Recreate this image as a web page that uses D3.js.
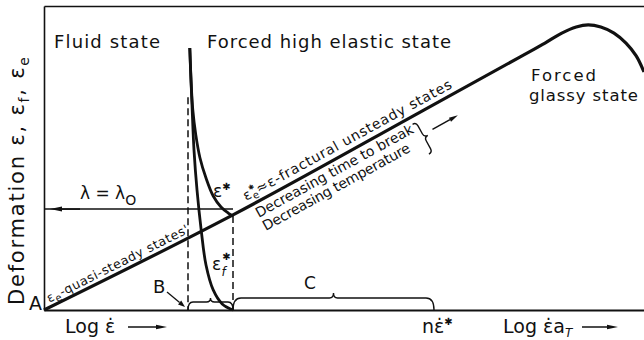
<!DOCTYPE html>
<html>
<head>
<meta charset="utf-8">
<script src="https://cdn.jsdelivr.net/npm/d3@7"></script>
<style>
body { margin: 0; background: #fff; }
text { font-family: "DejaVu Sans", sans-serif; fill: #111; }
</style>
</head>
<body>
<div id="chart"></div>
<script>
// deformation vs log strain rate (arbitrary units 0..10)
var mainX = [0, 3.15, 6.27, 7.93, 8.35, 8.63, 8.87, 9.07, 9.28, 9.5, 9.7, 9.87, 10];
var mainY = [0, 3.13, 6.51, 8.32, 8.78, 9.11, 9.31, 9.38, 9.31, 9.11, 8.78, 8.36, 7.83];
// eps* curve
var starX = [2.43, 2.45, 2.48, 2.53, 2.6, 2.7, 2.82, 2.95, 3.07, 3.15];
var starY = [8.62, 7.57, 6.58, 5.76, 5.0, 4.34, 3.75, 3.39, 3.19, 3.09];
// eps_f* curve
var fracX = [2.43, 2.45, 2.47, 2.5, 2.55, 2.62, 2.7, 2.82, 2.97, 3.15];
var fracY = [8.62, 7.57, 6.58, 5.26, 3.95, 2.63, 1.48, 0.66, 0.2, 0];
// marks on the rate axis: B, eps*, n*eps*
var xB = 2.4, xStar = 3.15, xN = 6.5;
var lambdaY = 3.32, dashTop = 7.0;

var width = 644, height = 340;
var svg = d3.select('#chart').append('svg')
    .attr('width', width)
    .attr('height', height);

var x = d3.scaleLinear().domain([0, 10]).range([44, 644]);
var y = d3.scaleLinear().domain([0, 10]).range([310, 6]);

var zip = (xs, ys) => xs.map((v, i) => [v, ys[i]]);
var line = d3.line().x(d => x(d[0])).y(d => y(d[1])).curve(d3.curveCatmullRom.alpha(0.5));

// frame
var bottom = svg.append('g').attr('transform', `translate(0,${y(0)})`)
    .call(d3.axisBottom(x).tickValues([]).tickSizeOuter(0));
var left = svg.append('g').attr('transform', `translate(${x(0)},0)`)
    .call(d3.axisLeft(y).tickValues([]).tickSizeOuter(0));
var top_ = svg.append('g').attr('transform', `translate(0,${y(10)})`)
    .call(d3.axisTop(x).tickValues([]).tickSizeOuter(0));
bottom.select('.domain').attr('stroke', '#111').attr('stroke-width', 2);
left.select('.domain').attr('stroke', '#111').attr('stroke-width', 1.6);
top_.select('.domain').attr('stroke', '#111').attr('stroke-width', 1.6);

// dashed verticals
[[xB, dashTop], [xStar, starY[starY.length - 1]]].forEach(d => {
    svg.append('line')
        .attr('x1', x(d[0])).attr('x2', x(d[0]))
        .attr('y1', y(d[1])).attr('y2', y(0))
        .attr('stroke', '#111').attr('stroke-width', 1.5)
        .attr('stroke-dasharray', '7,4');
});

function arrow(x1, y1, x2, y2, len, w, sw) {
    var a = Math.atan2(y2 - y1, x2 - x1);
    var bx = x2 - len * Math.cos(a), by = y2 - len * Math.sin(a);
    svg.append('line').attr('x1', x1).attr('y1', y1).attr('x2', bx).attr('y2', by)
        .attr('stroke', '#111').attr('stroke-width', sw || 1.5);
    svg.append('path')
        .attr('d', `M${x2},${y2}L${bx - w * Math.sin(a)},${by + w * Math.cos(a)}L${bx + w * Math.sin(a)},${by - w * Math.cos(a)}Z`)
        .attr('fill', '#111');
}

// lambda = lambda0 line
svg.append('line')
    .attr('x1', x(0)).attr('x2', x(xStar))
    .attr('y1', y(lambdaY)).attr('y2', y(lambdaY))
    .attr('stroke', '#111').attr('stroke-width', 1.5);
arrow(x(0.6), y(lambdaY), x(0.1), y(lambdaY), 12, 2.5);

// curves
svg.append('path').attr('d', line(zip(mainX, mainY)))
    .attr('fill', 'none').attr('stroke', '#111').attr('stroke-width', 3.2)
    .attr('stroke-linejoin', 'round');
svg.append('path').attr('d', line(zip(starX, starY)))
    .attr('fill', 'none').attr('stroke', '#111').attr('stroke-width', 2.8);
svg.append('path').attr('d', line(zip(fracX, fracY)))
    .attr('fill', 'none').attr('stroke', '#111').attr('stroke-width', 2.8);

// bottom braces B and C
function hbrace(xa, xb, yb, h, tip, r) {
    var xm = (xa + xb) / 2, yt = yb - h;
    svg.append('path')
        .attr('d', `M${xa},${yb}Q${xa},${yt} ${xa + r},${yt}L${xm - 4},${yt}Q${xm},${yt} ${xm},${yt - tip}` +
            `Q${xm},${yt} ${xm + 4},${yt}L${xb - r},${yt}Q${xb},${yt} ${xb},${yb}`)
        .attr('fill', 'none').attr('stroke', '#111').attr('stroke-width', 1.4);
}
hbrace(x(xB), x(xStar), y(0), 8, 4, 5);
hbrace(x(xStar), x(xN), y(0), 12, 5, 8);

// frame along main line segment
function seg(i) {
    var x0 = x(mainX[i]), y0 = y(mainY[i]), x1 = x(mainX[i + 1]), y1 = y(mainY[i + 1]);
    var L = Math.hypot(x1 - x0, y1 - y0);
    var tx = (x1 - x0) / L, ty = (y1 - y0) / L;
    return { x0: x0, y0: y0, tx: tx, ty: ty, nx: -ty, ny: tx, ang: Math.atan2(y1 - y0, x1 - x0) * 180 / Math.PI };
}
function at(f, s, d) { return [f.x0 + s * f.tx + d * f.nx, f.y0 + s * f.ty + d * f.ny]; }
function lineText(f, s, d, size, len) {
    var p = at(f, s, d);
    return svg.append('text')
        .attr('transform', `translate(${p[0]},${p[1]}) rotate(${f.ang})`)
        .attr('font-size', size)
        .attr('textLength', len);
}

var s0 = seg(0), s1 = seg(1);
var t1 = lineText(s0, 8, -4, 12.5, 157);
t1.append('tspan').text('ε');
t1.append('tspan').text('e').attr('dy', 3).attr('font-size', 10);
t1.append('tspan').text('-quasi-steady states\'').attr('dy', -3);

var t2 = lineText(s1, 18, -6, 14, 236);
t2.append('tspan').text('ε');
t2.append('tspan').text('e').attr('dy', 3).attr('font-size', 10);
t2.append('tspan').text('✱').attr('dx', -7).attr('dy', -10).attr('font-size', 7);
t2.append('tspan').text('≈ε-fractural unsteady states').attr('dy', 7);

lineText(s1, 21, 15, 14, 178).text('Decreasing time to break');
lineText(s1, 21, 30, 14, 166).text('Decreasing temperature');

// rotated brace + arrow
var bc = at(s1, 205, 24);
svg.append('path')
    .attr('d', 'M-17,4Q-17,0 -13,0L-4,0Q0,0 0,-4Q0,0 4,0L13,0Q17,0 17,4')
    .attr('transform', `translate(${bc[0]},${bc[1]}) rotate(${s1.ang + 90})`)
    .attr('fill', 'none').attr('stroke', '#111').attr('stroke-width', 1.4);
var a0 = at(s1, 216, 21), a1 = at(s1, 245, 21);
arrow(a0[0], a0[1], a1[0], a1[1], 9, 2.2);

// region labels
svg.append('text').attr('x', 54).attr('y', 48).attr('font-size', 18).attr('textLength', 106).text('Fluid state');
svg.append('text').attr('x', 207).attr('y', 48).attr('font-size', 18).attr('textLength', 244).text('Forced high elastic state');
svg.append('text').attr('x', 531).attr('y', 81).attr('font-size', 16.5).attr('textLength', 65).text('Forced');
svg.append('text').attr('x', 529).attr('y', 101).attr('font-size', 16.5).attr('textLength', 109).text('glassy state');

// y label
var yl = svg.append('text').attr('transform', 'translate(24,305) rotate(-90)')
    .attr('font-size', 21).attr('textLength', 248);
yl.append('tspan').text('Deformation ε, ε');
yl.append('tspan').text('f').attr('dy', 5).attr('font-size', 14);
yl.append('tspan').text(', ε').attr('dy', -5);
yl.append('tspan').text('e').attr('dy', 5).attr('font-size', 14);

// point labels
svg.append('text').attr('x', x(0) - 15).attr('y', y(0)).attr('font-size', 19).text('A');
svg.append('text').attr('x', x(xB) - 35).attr('y', 293).attr('font-size', 18).text('B');
arrow(x(xB) - 21, 292, x(xB) - 3, 307, 7, 2.5, 1.3);
svg.append('text').attr('x', 310).attr('y', 289).attr('font-size', 17).attr('text-anchor', 'middle').text('C');

var lm = svg.append('text').attr('x', 80).attr('y', 199).attr('font-size', 17);
lm.append('tspan').text('λ = λ');
lm.append('tspan').text('O').attr('dy', 6).attr('font-size', 14);

var es = svg.append('text').attr('x', x(xStar) - 20).attr('y', 197).attr('font-size', 17);
es.append('tspan').text('ε');
es.append('tspan').text('✱').attr('dy', -7).attr('font-size', 10);

var ef = svg.append('text').attr('x', x(xStar) - 21).attr('y', 270).attr('font-size', 17);
ef.append('tspan').text('ε');
ef.append('tspan').text('✱').attr('dy', -10).attr('dx', 1).attr('font-size', 10);
ef.append('tspan').text('f').attr('dy', 16).attr('dx', -9).attr('font-size', 12).attr('font-style', 'italic');

// axis captions
var lx = svg.append('text').attr('x', 65).attr('y', 333).attr('font-size', 19);
lx.append('tspan').text('Log ε\u0307');
arrow(128, 327, 167, 327, 11, 2.3, 1.5);

var ne = svg.append('text').attr('x', 422).attr('y', 333).attr('font-size', 19);
ne.append('tspan').text('nε\u0307');
ne.append('tspan').text('✱').attr('dy', -8).attr('font-size', 10);

var la = svg.append('text').attr('x', 503).attr('y', 333).attr('font-size', 19);
la.append('tspan').text('Log ε\u0307a');
la.append('tspan').text('T').attr('dy', 4).attr('font-size', 12).attr('font-style', 'italic');
arrow(582, 327, 618, 327, 11, 2.3, 1.5);
</script>
</body>
</html>
